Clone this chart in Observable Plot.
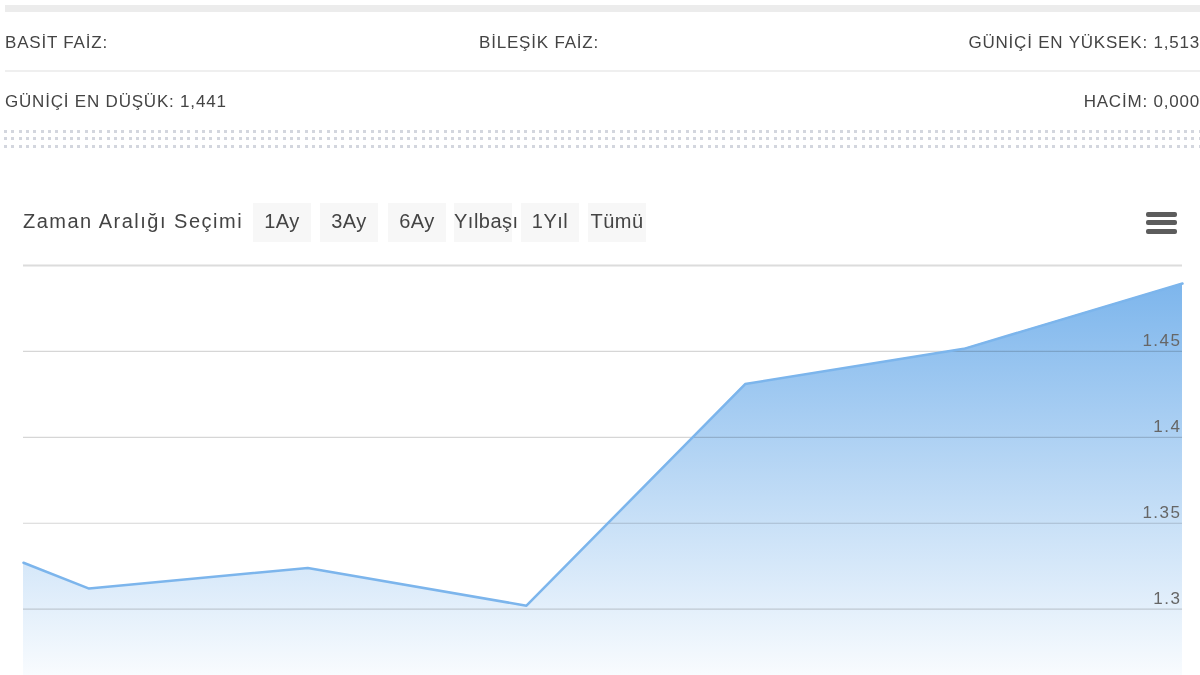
<!DOCTYPE html>
<html><head><meta charset="utf-8">
<script src="https://cdn.jsdelivr.net/npm/d3@7"></script>
<script src="https://cdn.jsdelivr.net/npm/@observablehq/plot@0.6"></script>
<style>
html,body{margin:0;padding:0;background:#fff}
body{width:1200px;height:675px;overflow:hidden;position:relative;font-family:"Liberation Sans","Roboto",sans-serif;color:#444}
.topbar{position:absolute;left:5px;top:5px;width:1195px;height:7px;background:#ececec}
.row{position:absolute;left:5px;width:1195px;font-size:17px;line-height:20px;letter-spacing:0.8px}
.row span{position:absolute;top:0;white-space:nowrap}
.sep{position:absolute;left:5px;top:70px;width:1195px;height:2px;background:#efefef}
.dots{position:absolute;left:4px;width:1196px;height:3px;background-image:repeating-linear-gradient(90deg,#d3d6de 0 3px,transparent 3px 7.33px)}
.range{position:absolute;left:23px;top:203px;height:39px;font-size:20px;color:#444;letter-spacing:1.5px}
.range .lbl{position:absolute;left:0;top:7px;white-space:nowrap}
.btn{position:absolute;top:0;height:39px;width:58px;background:#f7f7f7;text-align:center;line-height:37px;white-space:nowrap;letter-spacing:0.5px}
.menu{position:absolute;left:1146px;width:31px;height:5px;background:#5c5c5c;border-radius:2px}
#chart{position:absolute;left:0;top:250px}
</style></head>
<body>
<div class="topbar"></div>
<div class="row" style="top:33px"><span style="left:0">BASİT FAİZ:</span><span style="left:474px">BİLEŞİK FAİZ:</span><span style="right:0">GÜNİÇİ EN YÜKSEK: 1,513</span></div>
<div class="sep"></div>
<div class="row" style="top:92px"><span style="left:0">GÜNİÇİ EN DÜŞÜK: 1,441</span><span style="right:0">HACİM: 0,000</span></div>
<div class="dots" style="top:130px"></div>
<div class="dots" style="top:137px"></div>
<div class="dots" style="top:145px"></div>
<div class="range">
  <span class="lbl">Zaman Aralığı Seçimi</span>
  <div class="btn" style="left:230px">1Ay</div>
  <div class="btn" style="left:297px">3Ay</div>
  <div class="btn" style="left:365px">6Ay</div>
  <div class="btn" style="left:431px">Yılbaşı</div>
  <div class="btn" style="left:498px">1Yıl</div>
  <div class="btn" style="left:565px">Tümü</div>
</div>
<div class="menu" style="top:212px"></div>
<div class="menu" style="top:220px"></div>
<div class="menu" style="top:229px"></div>
<div id="chart"></div>
<script>
// data
const gun = [0, 2.1, 9.1, 16.1, 23.1, 30.1, 37.1];
const deger = [1.327, 1.312, 1.324, 1.302, 1.431, 1.4515, 1.4895];
const yTicks = [1.3, 1.35, 1.4, 1.45];
const yGrid = [1.3, 1.35, 1.4, 1.45];
const yTop = 1.5;
const yBottom = 1.2614;

const data = gun.map((g, i) => ({gun: g, deger: deger[i]}));

const grad = () => {
  const svgNS = "http://www.w3.org/2000/svg";
  const defs = document.createElementNS(svgNS, "defs");
  defs.innerHTML = `<linearGradient id="areaGrad" gradientUnits="userSpaceOnUse" x1="0" y1="30" x2="0" y2="425">
    <stop offset="0" stop-color="#7cb5ec" stop-opacity="1"/>
    <stop offset="1" stop-color="#7cb5ec" stop-opacity="0.05"/>
  </linearGradient>`;
  return defs;
};

const chart = Plot.plot({
  width: 1200,
  height: 425,
  marginTop: 15,
  marginBottom: 0,
  marginLeft: 23,
  marginRight: 18,
  x: {domain: [gun[0], gun[gun.length - 1]], axis: null},
  y: {domain: [yBottom, yTop], axis: null},
  style: {fontFamily: "'Liberation Sans',sans-serif", background: "transparent"},
  marks: [
    grad,
    Plot.areaY(data, {x: "gun", y1: yBottom, y2: "deger", fill: "url(#areaGrad)"}),
    Plot.ruleY(yGrid, {stroke: "#d6d6d6", strokeWidth: 1.2, mixBlendMode: "multiply"}),
    Plot.ruleY([yTop], {stroke: "#dcdcdc", strokeWidth: 2}),
    Plot.lineY(data, {x: "gun", y: "deger", stroke: "#7cb5ec", strokeWidth: 2.5}),
    Plot.text(yTicks, {y: d => d, frameAnchor: "right", textAnchor: "end", dx: -1, dy: -11, text: d => String(d), fill: "#666", fontSize: 17})
  ]
});
chart.querySelectorAll("text").forEach(t => t.style.letterSpacing = "1.5px");
document.getElementById("chart").appendChild(chart);
</script>
</body></html>
